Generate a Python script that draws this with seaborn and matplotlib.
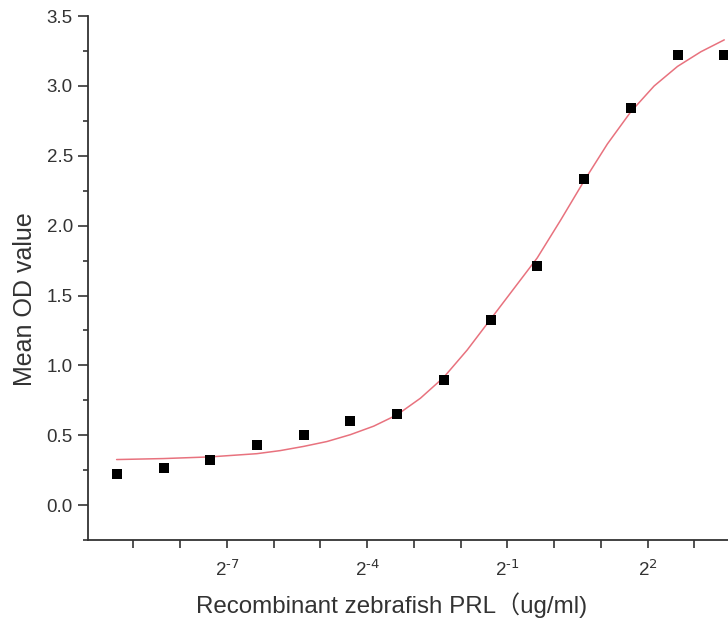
import numpy as np
import pandas as pd
import matplotlib
matplotlib.use("Agg")
import matplotlib.pyplot as plt
import seaborn as sns
from matplotlib.ticker import FixedLocator, FixedFormatter, MultipleLocator

# two-fold dilution series, ug/ml
conc = [0.00152587890625, 0.0030517578125, 0.006103515625, 0.01220703125,
        0.0244140625, 0.048828125, 0.09765625, 0.1953125, 0.390625,
        0.78125, 1.5625, 3.125, 6.25, 12.5]
mean_od = [0.226, 0.267, 0.326, 0.428, 0.502, 0.604, 0.654,
           0.896, 1.328, 1.712, 2.334, 2.84, 3.224, 3.224]

# fitted curve (log2 of concentration, OD)
fit_log2 = [-9.36, -8.36, -7.36, -6.36, -5.86, -5.36, -4.86, -4.36, -3.86,
            -3.36, -2.86, -2.36, -1.86, -1.36, -0.86, -0.36, 0.14, 0.64,
            1.14, 1.64, 2.14, 2.64, 3.14, 3.64]
fit_od = [0.326, 0.333, 0.345, 0.368, 0.39, 0.42, 0.455, 0.504, 0.565,
          0.646, 0.765, 0.915, 1.11, 1.33, 1.55, 1.77, 2.04, 2.32,
          2.585, 2.815, 3.0, 3.14, 3.245, 3.33]

major_exp = [-7, -4, -1, 2]
minor_exp = list(range(-9, 4))

sns.set_style("ticks")
plt.rcParams["font.family"] = ["Liberation Sans", "Noto Sans CJK SC", "DejaVu Sans"]
plt.rcParams["mathtext.default"] = "regular"

fig = plt.figure(figsize=(7.28, 6.2), dpi=100)
ax = fig.add_axes([0.121, 0.129, 0.879, 0.845])

points = pd.DataFrame({"conc": conc, "od": mean_od})
curve = pd.DataFrame({"conc": np.power(2.0, fit_log2), "od": fit_od})

sns.lineplot(data=curve, x="conc", y="od", ax=ax, color="#e8727e", linewidth=1.1,
             sort=True, zorder=2)
sns.scatterplot(data=points, x="conc", y="od", ax=ax, marker="s", s=55,
                color="black", edgecolor="black", linewidth=0, zorder=3,
                clip_on=False)

ax.set_xscale("log", base=2)
ax.set_xlim(2.0 ** -9.97, 2.0 ** 3.72)
ax.set_ylim(-0.25, 3.5)

ax.xaxis.set_major_locator(FixedLocator([2.0 ** e for e in major_exp]))
ax.xaxis.set_major_formatter(FixedFormatter([r"$2^{\text{%d}}$" % e for e in major_exp]))
ax.xaxis.set_minor_locator(FixedLocator([2.0 ** e for e in minor_exp if e not in major_exp]))
ax.xaxis.set_minor_formatter(FixedFormatter([]))

ax.yaxis.set_major_locator(FixedLocator([0.0, 0.5, 1.0, 1.5, 2.0, 2.5, 3.0, 3.5]))
ax.yaxis.set_major_formatter(FixedFormatter(["0.0", "0.5", "1.0", "1.5", "2.0", "2.5", "3.0", "3.5"]))
ax.yaxis.set_minor_locator(MultipleLocator(0.25))

ink = "#333333"
for side in ["top", "right"]:
    ax.spines[side].set_visible(False)
for side in ["left", "bottom"]:
    ax.spines[side].set_color(ink)
    ax.spines[side].set_linewidth(1.3)

ax.tick_params(axis="x", which="both", direction="out", length=5.5, width=1.2,
               color=ink, labelcolor=ink, labelsize=13.5, pad=8)
ax.tick_params(axis="y", which="major", direction="out", length=7, width=1.2,
               color=ink, labelcolor=ink, labelsize=13.5, pad=4)
ax.tick_params(axis="y", which="minor", direction="out", length=3.5, width=1.2,
               color=ink)

ax.set_xlabel("Recombinant zebrafish PRL（ug/ml)", fontsize=17.4, color=ink, labelpad=9)
ax.set_ylabel("Mean OD value", fontsize=18, color=ink, labelpad=7)
# labels sit a little off-centre in the original
ax.xaxis.label.set_x(0.475)
ax.yaxis.label.set_y(0.46)

fig.savefig("out.png", dpi=100)
